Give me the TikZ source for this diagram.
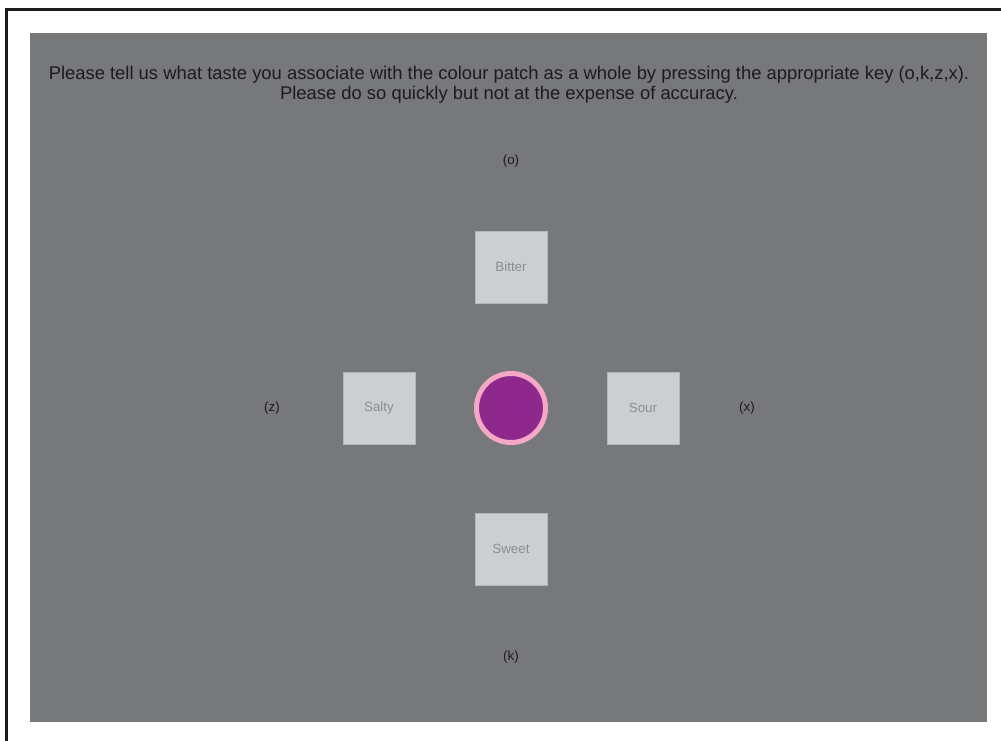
\documentclass[tikz,border=0pt]{standalone}
\usepackage{fontspec}
\setmainfont{Liberation Sans}
\usetikzlibrary{positioning}
\definecolor{screengrey}{HTML}{77787A}
\definecolor{tilegrey}{HTML}{CDCED0}
\definecolor{tileedge}{HTML}{B4B5B8}
\definecolor{tiletext}{HTML}{8C8D90}
\definecolor{keyblack}{HTML}{1C1C1E}
\definecolor{patchpurple}{HTML}{8E288D}
\definecolor{patchpink}{HTML}{F4A8C6}

\begin{document}
\begin{tikzpicture}[x=0.75pt, y=-0.75pt,
    tile/.style={draw=tileedge, line width=0.6pt, fill=tilegrey, minimum size=54pt, inner sep=0pt, font=\fontsize{10}{12}\selectfont, text=tiletext},
    keylabel/.style={font=\fontsize{10}{12}\selectfont, text=keyblack}]
          \useasboundingbox (0,0) rectangle (1001,741);
          % frame and screen
          \draw[keyblack, line width=1.8pt] (1001,9.5) -- (6.5,9.5) -- (6.5,741);
          \fill[screengrey] (30,33) rectangle (987,722);
          \node[font=\fontsize{13.8}{15}\selectfont, text=keyblack, align=center] (instr) at (509,84.5)
            {Please tell us what taste you associate with the colour patch as a whole by pressing the appropriate key (o,k,z,x).\\
             Please do so quickly but not at the expense of accuracy.};
          % colour patch
          \node[circle, fill=patchpurple, draw=patchpink, line width=3.75pt, minimum size=51.75pt, inner sep=0pt] (patch) at (511,408) {};
          % taste tiles
          \node[tile] (bitter) at (511,267) {Bitter};
          \node[tile] (salty) at (379,408) {Salty};
          \node[tile] (sour) at (643,408) {Sour};
          \node[tile] (sweet) at (511,549) {Sweet};
          % response keys
          \node[keylabel] (keyo) at (511,161) {(o)};
          \node[keylabel] (keyk) at (511,657) {(k)};
          \node[keylabel] (keyz) at (272,408) {(z)};
          \node[keylabel] (keyx) at (747,408) {(x)};
        \end{tikzpicture}
\end{document}
